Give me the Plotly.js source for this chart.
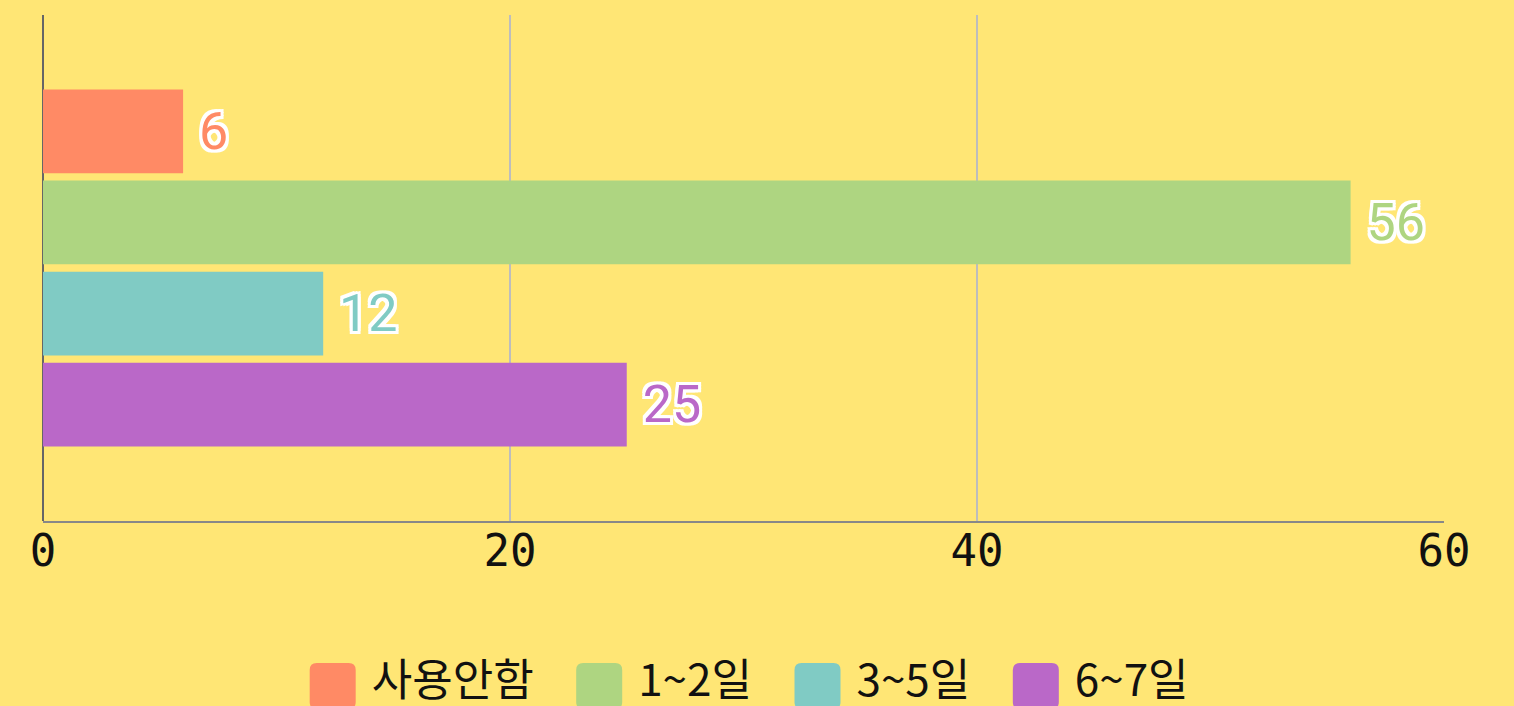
<!DOCTYPE html>
<html>
<head>
<meta charset="utf-8">
<script src="https://cdn.plot.ly/plotly-3.0.1.min.js"></script>
<style>
  html, body { margin: 0; padding: 0; background: #FFE675; }
  #chart { width: 1514px; height: 706px; }
</style>
</head>
<body>
<div id="chart"></div>
<script>
const category = ['응답'];
const seriesNames = ['사용안함', '1~2일', '3~5일', '6~7일'];
const seriesValues = [[6], [56], [12], [25]];
const seriesColors = ['#FF8A65', '#AED581', '#80CBC4', '#BA68C8'];
const xTicks = [0, 20, 40, 60];

const s = 3;
const outline = [[s,s],[-s,-s],[s,-s],[-s,s],[0,s],[s,0],[0,-s],[-s,0]].map(([a,b]) => `${a}px ${b}px 0 #fff`).join(', ');

const traces = seriesNames.map((name, i) => ({
  type: 'bar',
  orientation: 'h',
  name: name + '\u00a0\u00a0\u00a0',
  y: category,
  x: seriesValues[i],
  marker: { color: seriesColors[i], line: { width: 0 } },
  texttemplate: '\u00a0%{x}',
  textposition: 'outside',
  cliponaxis: false,
  textfont: { family: 'Roboto, sans-serif', size: 52, color: seriesColors[i], shadow: outline },
  hoverinfo: 'skip'
}));

const layout = {
  width: 1514,
  height: 706,
  paper_bgcolor: '#FFE675',
  plot_bgcolor: '#FFE675',
  margin: { l: 43, r: 70, t: 15, b: 185, autoexpand: false },
  barmode: 'group',
  bargap: 0.28,
  bargroupgap: 0.08,
  showlegend: true,
  legend: {
    orientation: 'h',
    x: 0.5137,
    xanchor: 'center',
    y: -0.243,
    yanchor: 'top',
    itemwidth: 60,
    font: { family: '"Noto Sans CJK KR", sans-serif', size: 44, color: '#111' },
    bgcolor: 'rgba(0,0,0,0)',
    traceorder: 'normal'
  },
  xaxis: {
    range: [0, 60],
    tickvals: xTicks,
    ticktext: xTicks.map(String),
    showgrid: true,
    gridcolor: '#BDBDBD',
    gridwidth: 2,
    zeroline: true,
    zerolinecolor: '#666666',
    zerolinewidth: 2,
    showline: true,
    linecolor: '#888888',
    linewidth: 2,
    ticks: '',
    ticklabelstandoff: -10,
    tickfont: { family: '"DejaVu Sans Mono", monospace', size: 44, color: '#111' },
    automargin: false,
    fixedrange: true
  },
  yaxis: {
    autorange: 'reversed',
    showticklabels: false,
    showgrid: false,
    zeroline: false,
    showline: false,
    ticks: '',
    automargin: false,
    fixedrange: true
  }
};

Plotly.newPlot('chart', traces, layout, { displayModeBar: false, staticPlot: true }).then(gd => {
  const h = 23, r = 7;
  const d = `M${-h + r},${-h}H${h - r}Q${h},${-h} ${h},${-h + r}V${h - r}Q${h},${h} ${h - r},${h}H${-h + r}Q${-h},${h} ${-h},${h - r}V${-h + r}Q${-h},${-h} ${-h + r},${-h}Z`;
  gd.querySelectorAll('.legend .legendpoints path').forEach(p => {
    p.setAttribute('d', d);
    p.style.strokeWidth = '0px';
    p.setAttribute('transform', 'translate(31,7)');
  });
});
</script>
</body>
</html>
